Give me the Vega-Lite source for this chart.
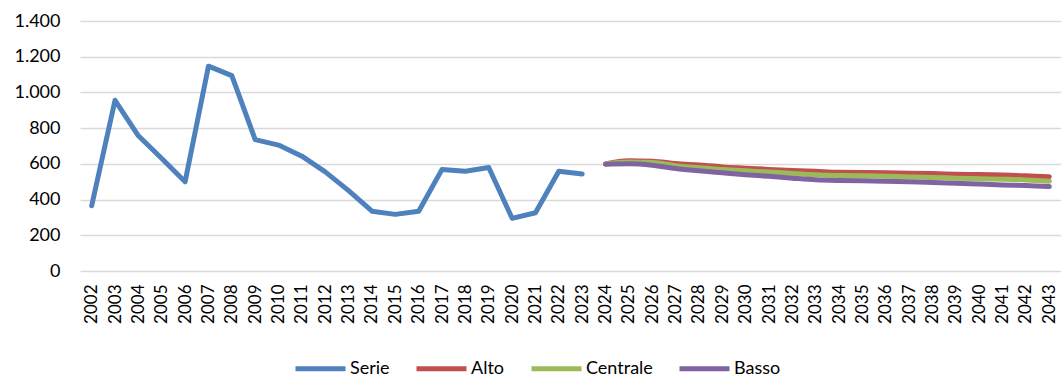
{
  "$schema": "https://vega.github.io/schema/vega-lite/v6.json",
  "width": 981,
  "height": 250,
  "autosize": {"type": "none"},
  "padding": {"left": 80, "top": 21, "right": 0, "bottom": 107},
  "background": "white",
  "config": {
    "font": "Lato",
    "view": {"stroke": null},
    "axis": {"labelFont": "Lato", "labelColor": "#000000", "domain": false, "ticks": false}
  },
  "datasets": {
    "serie": [
      {"year": "2002", "series": "Serie", "value": 365},
      {"year": "2003", "series": "Serie", "value": 956},
      {"year": "2004", "series": "Serie", "value": 757},
      {"year": "2005", "series": "Serie", "value": 630},
      {"year": "2006", "series": "Serie", "value": 500},
      {"year": "2007", "series": "Serie", "value": 1147},
      {"year": "2008", "series": "Serie", "value": 1094},
      {"year": "2009", "series": "Serie", "value": 736},
      {"year": "2010", "series": "Serie", "value": 705},
      {"year": "2011", "series": "Serie", "value": 643},
      {"year": "2012", "series": "Serie", "value": 555},
      {"year": "2013", "series": "Serie", "value": 450},
      {"year": "2014", "series": "Serie", "value": 335},
      {"year": "2015", "series": "Serie", "value": 317},
      {"year": "2016", "series": "Serie", "value": 335},
      {"year": "2017", "series": "Serie", "value": 569},
      {"year": "2018", "series": "Serie", "value": 559},
      {"year": "2019", "series": "Serie", "value": 580},
      {"year": "2020", "series": "Serie", "value": 295},
      {"year": "2021", "series": "Serie", "value": 326},
      {"year": "2022", "series": "Serie", "value": 559},
      {"year": "2023", "series": "Serie", "value": 543}
    ],
    "forecast": [
      {"year": "2024", "series": "Alto", "value": 600},
      {"year": "2025", "series": "Alto", "value": 617},
      {"year": "2026", "series": "Alto", "value": 615},
      {"year": "2027", "series": "Alto", "value": 602},
      {"year": "2028", "series": "Alto", "value": 593},
      {"year": "2029", "series": "Alto", "value": 583},
      {"year": "2030", "series": "Alto", "value": 576},
      {"year": "2031", "series": "Alto", "value": 569},
      {"year": "2032", "series": "Alto", "value": 563},
      {"year": "2033", "series": "Alto", "value": 558},
      {"year": "2034", "series": "Alto", "value": 553},
      {"year": "2035", "series": "Alto", "value": 552},
      {"year": "2036", "series": "Alto", "value": 550},
      {"year": "2037", "series": "Alto", "value": 548},
      {"year": "2038", "series": "Alto", "value": 546},
      {"year": "2039", "series": "Alto", "value": 542},
      {"year": "2040", "series": "Alto", "value": 540},
      {"year": "2041", "series": "Alto", "value": 537},
      {"year": "2042", "series": "Alto", "value": 534},
      {"year": "2043", "series": "Alto", "value": 528},
      {"year": "2024", "series": "Centrale", "value": 600},
      {"year": "2025", "series": "Centrale", "value": 611},
      {"year": "2026", "series": "Centrale", "value": 608},
      {"year": "2027", "series": "Centrale", "value": 590},
      {"year": "2028", "series": "Centrale", "value": 578},
      {"year": "2029", "series": "Centrale", "value": 569},
      {"year": "2030", "series": "Centrale", "value": 561},
      {"year": "2031", "series": "Centrale", "value": 554},
      {"year": "2032", "series": "Centrale", "value": 546},
      {"year": "2033", "series": "Centrale", "value": 539},
      {"year": "2034", "series": "Centrale", "value": 535},
      {"year": "2035", "series": "Centrale", "value": 533},
      {"year": "2036", "series": "Centrale", "value": 531},
      {"year": "2037", "series": "Centrale", "value": 527},
      {"year": "2038", "series": "Centrale", "value": 524},
      {"year": "2039", "series": "Centrale", "value": 520},
      {"year": "2040", "series": "Centrale", "value": 517},
      {"year": "2041", "series": "Centrale", "value": 514},
      {"year": "2042", "series": "Centrale", "value": 510},
      {"year": "2043", "series": "Centrale", "value": 503},
      {"year": "2024", "series": "Basso", "value": 598},
      {"year": "2025", "series": "Basso", "value": 600},
      {"year": "2026", "series": "Basso", "value": 592},
      {"year": "2027", "series": "Basso", "value": 574},
      {"year": "2028", "series": "Basso", "value": 561},
      {"year": "2029", "series": "Basso", "value": 550},
      {"year": "2030", "series": "Basso", "value": 539},
      {"year": "2031", "series": "Basso", "value": 530},
      {"year": "2032", "series": "Basso", "value": 520},
      {"year": "2033", "series": "Basso", "value": 511},
      {"year": "2034", "series": "Basso", "value": 507},
      {"year": "2035", "series": "Basso", "value": 505},
      {"year": "2036", "series": "Basso", "value": 503},
      {"year": "2037", "series": "Basso", "value": 500},
      {"year": "2038", "series": "Basso", "value": 496},
      {"year": "2039", "series": "Basso", "value": 492},
      {"year": "2040", "series": "Basso", "value": 487},
      {"year": "2041", "series": "Basso", "value": 482},
      {"year": "2042", "series": "Basso", "value": 479},
      {"year": "2043", "series": "Basso", "value": 473}
    ]
  },
  "encoding": {
    "x": {
      "field": "year",
      "type": "ordinal",
      "scale": {"type": "point", "padding": 0.5},
      "axis": {
        "title": null,
        "labelAngle": -90,
        "labelFontSize": 17,
        "labelPadding": 13,
        "labelAlign": "right",
        "labelBaseline": "middle",
        "grid": false
      }
    },
    "y": {
      "field": "value",
      "type": "quantitative",
      "scale": {"domain": [0, 1400], "nice": false},
      "axis": {
        "title": null,
        "values": [0, 200, 400, 600, 800, 1000, 1200, 1400],
        "format": ",d",
        "labelExpr": "replace(datum.label, ',', '.')",
        "labelFontSize": 18,
        "labelPadding": 20,
        "grid": true,
        "gridColor": "#D9D9D9",
        "gridWidth": 1.5
      }
    }
  },
  "layer": [
    {
      "data": {"name": "serie"},
      "mark": {"type": "line", "strokeWidth": 5, "strokeCap": "round", "strokeJoin": "round"},
      "encoding": {
        "color": {
          "field": "series",
          "type": "nominal",
          "scale": {
            "domain": ["Serie", "Alto", "Centrale", "Basso"],
            "range": ["#4F81BD", "#C0504D", "#9BBB59", "#8064A2"]
          },
          "legend": {
            "title": null,
            "orient": "none",
            "direction": "horizontal",
            "legendX": 213,
            "legendY": 320,
            "symbolType": "stroke",
            "symbolSize": 2500,
            "symbolStrokeWidth": 5,
            "labelFontSize": 18,
            "labelFont": "Lato",
            "labelColor": "#000000",
            "labelOffset": 2,
            "columnPadding": 16
          }
        }
      }
    },
    {
      "data": {"name": "forecast"},
      "mark": {"type": "line", "strokeWidth": 5, "strokeCap": "round", "strokeJoin": "round", "interpolate": "monotone"},
      "encoding": {
        "color": {"field": "series", "type": "nominal"},
        "detail": {"field": "series"}
      }
    }
  ]
}
